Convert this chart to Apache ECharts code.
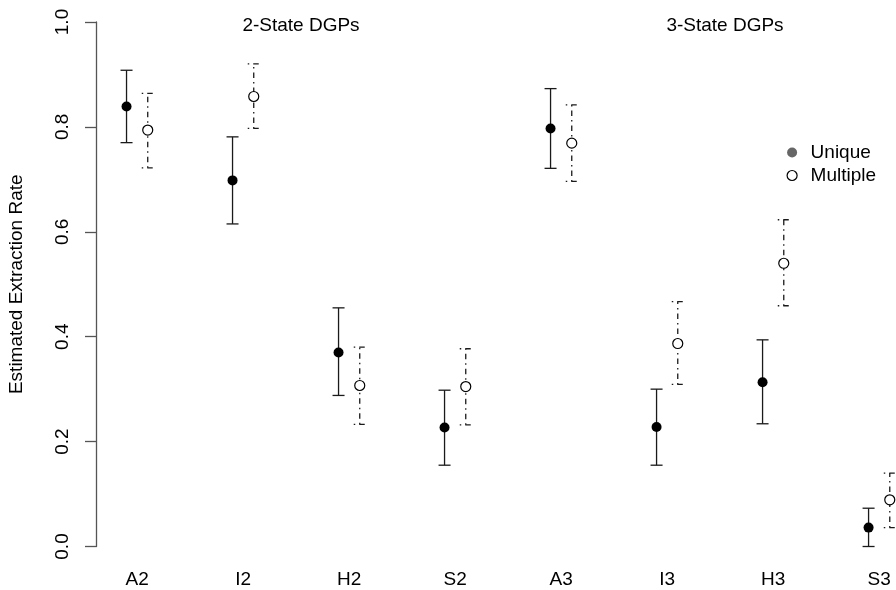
<!DOCTYPE html>
<html>
<head>
<meta charset="utf-8">
<script src="https://cdn.jsdelivr.net/npm/echarts@6/dist/echarts.min.js"></script>
<style>
html,body{margin:0;padding:0;background:#fff;}
#chart{width:896px;height:590px;}
</style>
</head>
<body>
<div id="chart"></div>
<script>
// ---- data ----
const categories = ['A2','I2','H2','S2','A3','I3','H3','S3'];
const uniqueEst  = [0.839, 0.698, 0.370, 0.227, 0.797, 0.228, 0.313, 0.036];
const uniqueLow  = [0.770, 0.615, 0.288, 0.155, 0.721, 0.155, 0.234, 0.000];
const uniqueHigh = [0.908, 0.781, 0.455, 0.298, 0.873, 0.300, 0.394, 0.073];
const multEst    = [0.794, 0.858, 0.307, 0.305, 0.769, 0.387, 0.540, 0.089];
const multLow    = [0.722, 0.797, 0.233, 0.232, 0.696, 0.309, 0.459, 0.036];
const multHigh   = [0.864, 0.920, 0.380, 0.377, 0.842, 0.467, 0.623, 0.140];
const groupTitles = ['2-State DGPs','3-State DGPs'];
const yTicks = [0, 0.2, 0.4, 0.6, 0.8, 1.0];

// ---- build ----
const OFFSET = 0.1;
const positions = categories.map((c, i) => i + 1);
const uniquePts = positions.map((p, i) => [p - OFFSET, uniqueEst[i]]);
const multPts   = positions.map((p, i) => [p + OFFSET, multEst[i]]);
const uniqueBars = positions.map((p, i) => [p - OFFSET, uniqueLow[i], uniqueHigh[i]]);
const multBars   = positions.map((p, i) => [p + OFFSET, multLow[i], multHigh[i]]);

const FONT = '"Liberation Sans", Arial, Helvetica, sans-serif';
const FS = 19;
const CAP = 6;

function errRender(dash) {
  return function (params, api) {
    const x = api.value(0);
    const lo = api.coord([x, api.value(1)]);
    const hi = api.coord([x, api.value(2)]);
    const style = { stroke: '#1a1a1a', lineWidth: 1.3, lineDash: dash };
    return {
      type: 'group',
      children: [
        { type: 'line', shape: { x1: lo[0], y1: lo[1], x2: hi[0], y2: hi[1] }, style: style },
        { type: 'line', shape: { x1: hi[0] - CAP, y1: hi[1], x2: hi[0] + CAP, y2: hi[1] }, style: style },
        { type: 'line', shape: { x1: lo[0] - CAP, y1: lo[1], x2: lo[0] + CAP, y2: lo[1] }, style: style }
      ]
    };
  };
}

const chart = echarts.init(document.getElementById('chart'), null, { renderer: 'canvas' });
chart.setOption({
  animation: false,
  backgroundColor: '#fff',
  textStyle: { fontFamily: FONT },
  title: [
    { text: groupTitles[0], left: 296, top: 11, textAlign: 'center',
      textStyle: { fontSize: FS, fontWeight: 'normal', color: '#000', fontFamily: FONT } },
    { text: groupTitles[1], left: 720, top: 11, textAlign: 'center',
      textStyle: { fontSize: FS, fontWeight: 'normal', color: '#000', fontFamily: FONT } }
  ],
  legend: {
    orient: 'vertical',
    left: 781.5,
    top: 138,
    itemWidth: 27,
    itemHeight: 10,
    itemGap: 4,
    textStyle: { fontSize: FS, color: '#000', fontFamily: FONT },
    data: [
      { name: 'Unique', icon: 'circle', itemStyle: { color: '#666', borderWidth: 0 } },
      { name: 'Multiple', icon: 'circle', itemStyle: { color: '#fff', borderColor: '#000', borderWidth: 1.2 } }
    ]
  },
  grid: { left: 96, width: 824.3, top: 22, bottom: 43.5, containLabel: false, outerBoundsMode: 'none' },
  xAxis: {
    type: 'value',
    min: 0.612,
    max: 8.388,
    axisLine: { show: false },
    axisTick: { show: false },
    splitLine: { show: false },
    axisLabel: {
      customValues: positions,
      formatter: v => categories[Math.round(v) - 1] || '',
      fontSize: FS, color: '#000', margin: 24, fontFamily: FONT
    }
  },
  yAxis: {
    type: 'value',
    min: 0,
    max: 1,
    interval: 0.2,
    name: 'Estimated Extraction Rate',
    nameLocation: 'middle',
    nameGap: 70,
    nameTextStyle: { fontSize: FS, color: '#000', fontFamily: FONT },
    axisLine: { show: true, lineStyle: { color: '#555', width: 1.3 } },
    axisTick: { show: true, inside: false, length: 11, lineStyle: { color: '#555', width: 1.3 } },
    splitLine: { show: false },
    axisLabel: {
      rotate: 90,
      margin: 24,
      fontSize: FS,
      color: '#000',
      fontFamily: FONT,
      formatter: v => {
        const t = yTicks.find(y => Math.abs(y - v) < 1e-6);
        return t === undefined ? '' : t.toFixed(1);
      }
    }
  },
  series: [
    { name: 'UniqueBars', type: 'custom', renderItem: errRender(null), data: uniqueBars, z: 2, clip: false,
      encode: { x: 0, y: [1, 2] } },
    { name: 'MultipleBars', type: 'custom', renderItem: errRender([1.5, 4, 5.5, 4]), data: multBars, z: 2, clip: false,
      encode: { x: 0, y: [1, 2] } },
    { name: 'Unique', type: 'scatter', data: uniquePts, symbol: 'circle', symbolSize: 10, z: 3,
      itemStyle: { color: '#000', opacity: 1 } },
    { name: 'Multiple', type: 'scatter', data: multPts, symbol: 'circle', symbolSize: 10, z: 3,
      itemStyle: { color: '#fff', borderColor: '#000', borderWidth: 1.2, opacity: 1 } }
  ]
});
</script>
</body>
</html>
